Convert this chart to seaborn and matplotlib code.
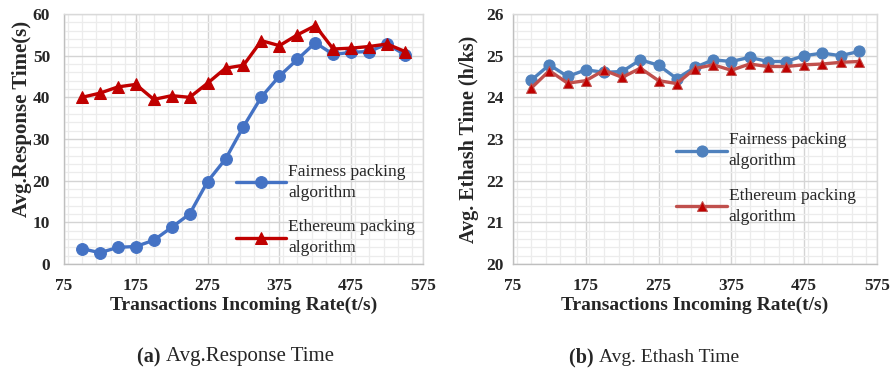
import numpy as np
import pandas as pd
import matplotlib
matplotlib.use("Agg")
import matplotlib.pyplot as plt
from matplotlib.ticker import MultipleLocator
import seaborn as sns

# Transaction incoming rates (t/s)
rates = [100, 125, 150, 175, 200, 225, 250, 275, 300, 325,
         350, 375, 400, 425, 450, 475, 500, 525, 550]

# (a) Average response time (s)
resp_fairness = [3.7, 2.7, 4.0, 4.2, 5.7, 8.8, 12.0, 19.8, 25.2, 33.0,
                 40.1, 45.1, 49.1, 53.1, 50.3, 50.8, 51.0, 52.8, 50.2]
resp_ethereum = [40.0, 41.0, 42.5, 43.1, 39.5, 40.4, 40.0, 43.4, 47.0, 47.7,
                 53.6, 52.4, 55.0, 57.2, 51.6, 51.8, 52.2, 52.8, 51.0]

# (b) Average Ethash time (h/ks)
hash_fairness = [24.41, 24.78, 24.50, 24.66, 24.60, 24.62, 24.90, 24.77, 24.45, 24.72,
                 24.90, 24.86, 24.96, 24.86, 24.86, 25.00, 25.06, 25.00, 25.10]
hash_ethereum = [24.22, 24.64, 24.34, 24.40, 24.65, 24.48, 24.70, 24.40, 24.33, 24.69,
                 24.78, 24.65, 24.80, 24.74, 24.74, 24.78, 24.80, 24.84, 24.86]

labels = ["Fairness packing\nalgorithm", "Ethereum packing\nalgorithm"]
x_ticks = [75, 175, 275, 375, 475, 575]

sns.set_theme(style="white")
plt.rcParams["font.family"] = ["Liberation Serif", "DejaVu Serif"]

fig = plt.figure(figsize=(8.95, 3.72), dpi=100)
ax1 = fig.add_axes([64 / 895, 1 - 264 / 372, 359 / 895, 250 / 372])
ax2 = fig.add_axes([513 / 895, 1 - 264 / 372, 364 / 895, 250 / 372])


def style_axes(ax, ymin, ymax, ymajor, yminor, ylabel, ypad, ysize):
    ax.set_xlim(75, 575)
    ax.set_ylim(ymin, ymax)
    ax.set_xticks(x_ticks)
    ax.xaxis.set_minor_locator(MultipleLocator(20))
    ax.yaxis.set_major_locator(MultipleLocator(ymajor))
    ax.yaxis.set_minor_locator(MultipleLocator(yminor))
    ax.grid(which="major", color="#d4d4d4", linewidth=1.0)
    ax.grid(which="minor", color="#ececec", linewidth=0.9)
    ax.set_axisbelow(True)
    for s in ax.spines.values():
        s.set_color("#d9d9d9")
        s.set_linewidth(1.0)
    ax.spines["left"].set_color("#bfbfbf")
    ax.spines["bottom"].set_color("#bfbfbf")
    ax.tick_params(which="both", length=0, labelsize=12.5)
    ax.tick_params(axis="x", pad=10)
    ax.tick_params(axis="y", pad=ypad)
    for t in ax.get_xticklabels() + ax.get_yticklabels():
        t.set_fontweight("bold")
    ax.set_xlabel("Transactions Incoming Rate(t/s)", fontsize=14,
                  fontweight="bold", labelpad=2)
    ax.set_ylabel(ylabel, fontsize=ysize, fontweight="bold", labelpad=5)


def add_legend(ax, anchor):
    leg = ax.legend(loc="lower left", bbox_to_anchor=anchor, frameon=False,
                    fontsize=12.5, handlelength=2.9, handletextpad=0.1,
                    labelspacing=1.08, borderaxespad=0)
    for t in leg.get_texts():
        t.set_linespacing(1.4)


# (a) response time
sns.lineplot(x=rates, y=resp_fairness, ax=ax1, color="#4472C4", linewidth=2.4,
             marker="o", markersize=8.5, markeredgecolor="#4472C4",
             label=labels[0], zorder=3)
sns.lineplot(x=rates, y=resp_ethereum, ax=ax1, color="#C00000", linewidth=2.4,
             marker="^", markersize=8.5, markeredgecolor="#C00000",
             label=labels[1], zorder=4)
style_axes(ax1, 0, 60, 10, 2, "Avg.Response Time(s)", 10, 15)
ax1.yaxis.set_label_coords(-0.09, 0.58)
add_legend(ax1, (0.46, 0.004))

# (b) Ethash time
sns.lineplot(x=rates, y=hash_fairness, ax=ax2, color="#4F81BD", linewidth=2.4,
             marker="o", markersize=8, markeredgecolor="#4F81BD",
             label=labels[0], zorder=3)
sns.lineplot(x=rates, y=hash_ethereum, ax=ax2, color="#C0504D", linewidth=2.4,
             marker="^", markersize=7.5, markerfacecolor="#C00000",
             markeredgecolor="#C0504D", label=labels[1], zorder=4)
style_axes(ax2, 20, 26, 1, 0.2, "Avg. Ethash Time (h/ks)", 7, 14.5)
add_legend(ax2, (0.43, 0.13))


def caption(x_split, tag, text, size):
    y = 1 - 357 / 372
    fig.text(x_split, y, tag + " ", fontsize=14.5, fontweight="bold",
             ha="right", va="center")
    fig.text(x_split, y, text, fontsize=size, ha="left", va="center")


caption(166 / 895, "(a)", "Avg.Response Time", 15)
caption(599 / 895, "(b)", "Avg. Ethash Time", 14)

fig.savefig("out.png", dpi=100)
